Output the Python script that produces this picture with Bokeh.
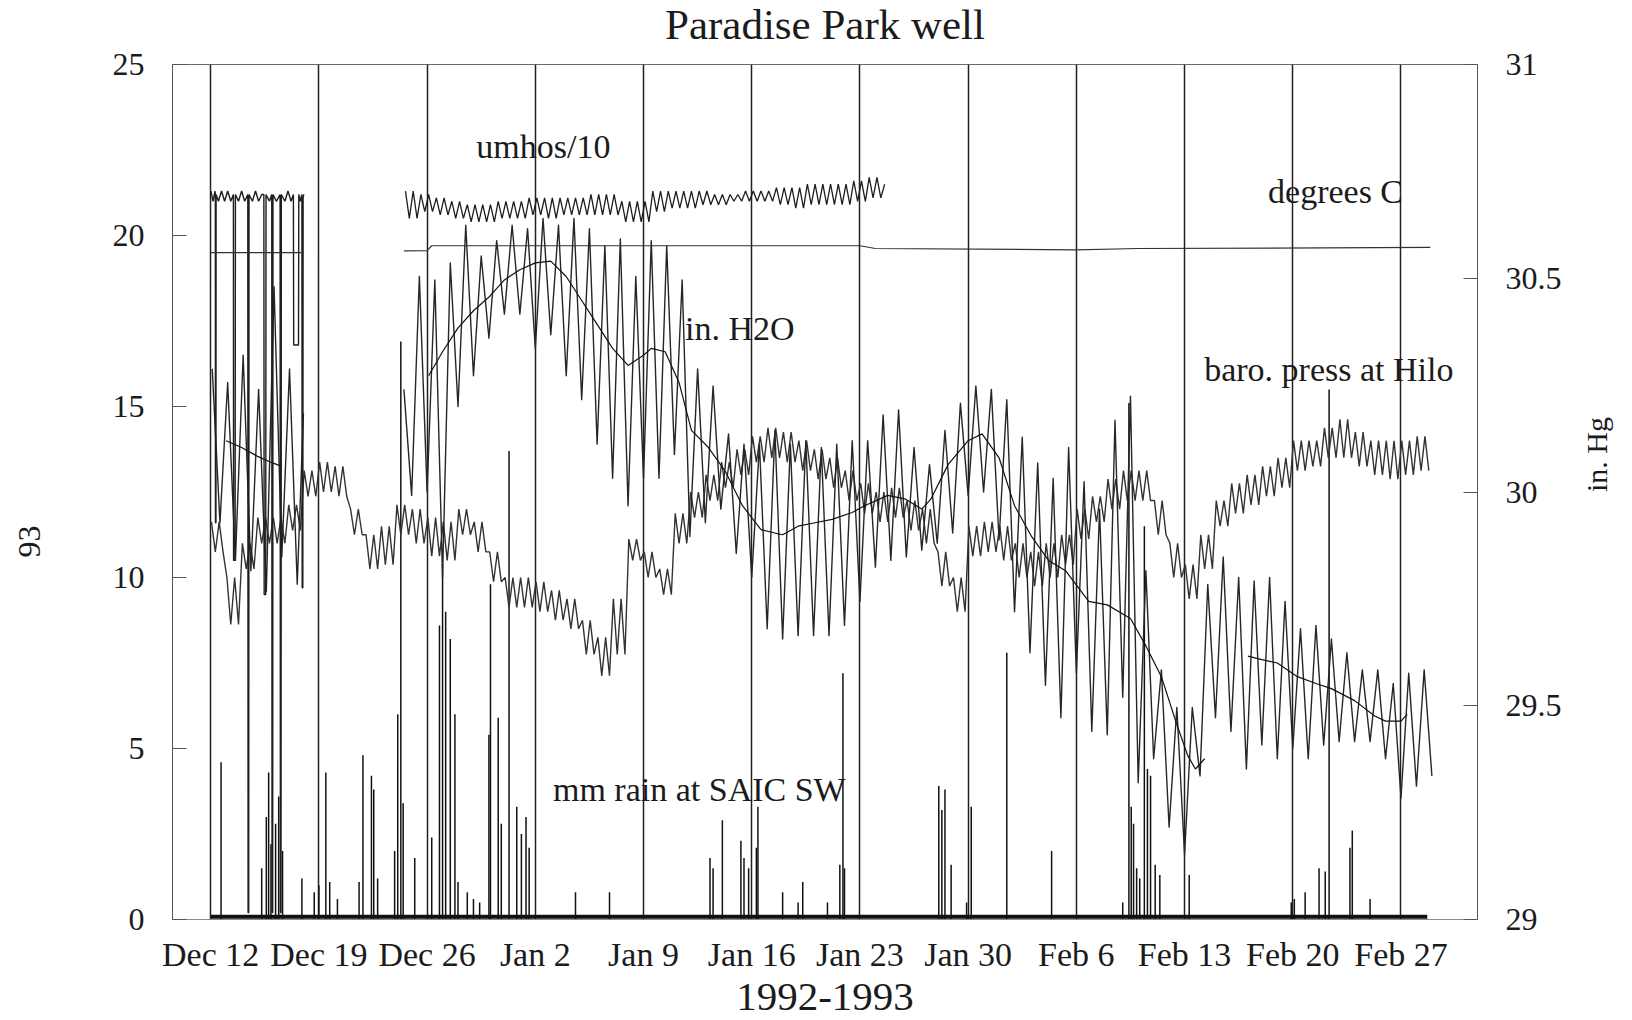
import math
import numpy as np
import pandas as pd
from bokeh.plotting import figure
from bokeh.models import Range1d, LinearAxis, FixedTicker, ColumnDataSource, Title
from bokeh.embed import file_html
from bokeh.resources import INLINE
from bokeh.core.properties import value

# ---------------------------------------------------------------------------
# Time axis: days counted from 12 Dec 1992
# ---------------------------------------------------------------------------
start_date = pd.Timestamp("1992-12-12")
week_dates = ["1992-12-12", "1992-12-19", "1992-12-26", "1993-01-02",
              "1993-01-09", "1993-01-16", "1993-01-23", "1993-01-30",
              "1993-02-06", "1993-02-13", "1993-02-20", "1993-02-27"]
week_labels = ["Dec 12", "Dec 19", "Dec 26", "Jan 2", "Jan 9", "Jan 16",
               "Jan 23", "Jan 30", "Feb 6", "Feb 13", "Feb 20", "Feb 27"]
week_pos = [float((pd.Timestamp(d) - start_date).days) for d in week_dates]

left_ticks = [0, 5, 10, 15, 20, 25]
right_ticks = [29, 29.5, 30, 30.5, 31]
right_labels = ["29", "29.5", "30", "30.5", "31"]

# ---------------------------------------------------------------------------
# Water level in well (in. H2O): daily high / low extremes
# ---------------------------------------------------------------------------
h2o_a_first_day = 0
h2o_a_hi = [16.1, 15.7, 16.5, 15.5, 18.5, 16.1]
h2o_a_lo = [11.6, 10.5, 10.2, 9.6, 10.6, 9.8]
h2o_a_last = 14.8

h2o_b_first_day = 12
h2o_b_hi = [15.5, 18.8, 18.7, 19.2, 20.3, 19.4, 19.85, 20.3, 20.2, 20.5,
            20.3, 20.5, 20.2, 19.7, 19.9, 18.8, 19.85, 19.7, 18.7, 16.1,
            15.6, 14.2, 13.9, 13.9, 14.3, 13.9, 14.0, 13.8, 13.9, 14.0,
            14.0, 14.75, 14.9, 13.8, 13.3, 14.3, 15.1, 15.6, 15.5, 15.2,
            14.1, 13.35, 12.9, 13.8, 12.8, 12.0, 14.6, 15.3, 10.2, 7.3,
            6.2, 6.2, 9.8, 10.6, 10.0, 9.9, 10.0, 9.3, 8.5, 8.6,
            8.2, 7.8, 7.3, 7.3, 6.9, 7.2, 7.3]
h2o_b_lo = [12.4, 12.5, 10.0, 15.0, 15.9, 17.0, 17.7, 17.7, 16.7, 17.1,
            15.9, 15.2, 13.9, 12.9, 12.1, 12.9, 12.9, 13.6, 11.2, 11.6,
            12.0, 10.7, 10.0, 8.5, 8.2, 8.3, 8.3, 8.3, 8.6, 9.3,
            10.3, 10.5, 10.6, 10.8, 11.0, 11.3, 12.4, 12.5, 11.1, 9.0,
            7.8, 6.85, 5.9, 7.2, 5.5, 5.4, 6.5, 4.0, 4.7, 2.7,
            1.9, 4.2, 5.9, 5.5, 4.4, 5.1, 4.7, 5.0, 4.7, 5.1,
            5.2, 5.2, 5.2, 4.7, 3.55, 3.9, 4.2]

# Smoothed water level
h2o_smooth_a_day = [1.0, 2.0, 3.0, 4.0, 4.6]
h2o_smooth_a_val = [14.0, 13.8, 13.55, 13.35, 13.25]
h2o_smooth_b_day = [14.1, 15, 16, 17, 18, 19, 20, 21, 22, 23, 24, 25, 26, 27,
                    28, 28.5, 29.4, 30.3, 31.1, 32.2, 33.3, 34.4, 35.6, 36.5,
                    37.0, 38.0, 39.1, 40.2, 41.5, 42.3, 43.8, 44.9, 46.0,
                    46.6, 47.7, 49.0, 49.9, 51.0, 52.0, 53.1, 54.2, 55.3,
                    56.8, 58.0, 59.5, 60.5, 61.5, 62.5, 63.2, 63.7, 64.3]
h2o_smooth_b_val = [15.9, 16.6, 17.3, 17.8, 18.2, 18.7, 19.0, 19.2, 19.25,
                    18.8, 18.1, 17.4, 16.7, 16.2, 16.5, 16.7, 16.6, 15.7,
                    14.3, 13.8, 13.1, 12.1, 11.4, 11.3, 11.25, 11.5, 11.6,
                    11.7, 11.9, 12.1, 12.4, 12.3, 12.0, 12.3, 13.3, 14.0,
                    14.2, 13.5, 12.1, 11.2, 10.5, 10.2, 9.3, 9.2, 8.8, 8.0,
                    7.1, 5.7, 4.8, 4.4, 4.7]
h2o_smooth_c_day = [67.1, 68.0, 69.0, 70.3, 71.5, 72.5, 74.0, 75.3, 76.0,
                    77.0, 77.4]
h2o_smooth_c_val = [7.7, 7.6, 7.5, 7.1, 6.9, 6.75, 6.4, 5.95, 5.8, 5.8, 6.0]

# ---------------------------------------------------------------------------
# Barometric pressure at Hilo (in. Hg): daily high / low
# ---------------------------------------------------------------------------
baro_hi = [29.93, 29.80, 29.88, 29.94, 29.94, 29.97, 30.05, 30.07, 30.06, 29.96,
           29.90, 29.92, 29.97, 29.96, 29.94, 29.93, 29.96, 29.93, 29.86, 29.80,
           29.80, 29.79, 29.77, 29.75, 29.70, 29.66, 29.75, 29.89, 29.86, 29.82,
           29.95, 30.00, 30.04, 30.07, 30.10, 30.13, 30.15, 30.14, 30.12, 30.10,
           30.08, 30.05, 30.02, 30.00, 30.01, 29.98, 29.96, 29.86, 29.80, 29.92,
           29.93, 29.92, 29.88, 29.86, 29.88, 29.90, 29.96, 29.99, 30.03, 30.05,
           30.05, 29.98, 29.88, 29.83, 29.90, 29.98, 30.02, 30.04, 30.06, 30.08,
           30.12, 30.12, 30.15, 30.17, 30.14, 30.12, 30.12, 30.12, 30.13]
baro_lo = [29.86, 29.69, 29.82, 29.88, 29.88, 29.91, 29.99, 30.00, 29.99, 29.90,
           29.82, 29.83, 29.90, 29.88, 29.85, 29.84, 29.90, 29.86, 29.79, 29.73,
           29.73, 29.72, 29.70, 29.68, 29.62, 29.57, 29.62, 29.84, 29.80, 29.76,
           29.88, 29.94, 29.98, 30.01, 30.04, 30.07, 30.08, 30.07, 30.05, 30.03,
           30.01, 29.98, 29.95, 29.93, 29.94, 29.91, 29.88, 29.78, 29.72, 29.85,
           29.86, 29.84, 29.80, 29.78, 29.80, 29.83, 29.89, 29.93, 29.96, 29.98,
           29.98, 29.90, 29.80, 29.75, 29.82, 29.92, 29.95, 29.97, 29.99, 30.01,
           30.05, 30.06, 30.08, 30.08, 30.06, 30.04, 30.03, 30.04, 30.05]

# ---------------------------------------------------------------------------
# Specific conductance (umhos/10)
# ---------------------------------------------------------------------------
umhos_dec = [(0.02, 21.3), (0.15, 21.0), (0.28, 21.3), (0.30, 21.2),
             (0.31, 11.6), (0.34, 11.6), (0.35, 21.2), (0.5, 21.0),
             (0.7, 21.3), (0.9, 21.0), (1.1, 21.3), (1.3, 21.0),
             (1.47, 21.2), (1.48, 10.5), (1.58, 10.5), (1.60, 21.2),
             (1.8, 21.0), (2.0, 21.3), (2.2, 21.0), (2.40, 21.2),
             (2.42, 0.2), (2.46, 0.2), (2.48, 21.2), (2.7, 21.0),
             (2.9, 21.3), (3.1, 21.0), (3.3, 21.2), (3.44, 21.2),
             (3.46, 9.5), (3.56, 9.5), (3.58, 21.2), (3.8, 21.0),
             (3.95, 21.2), (3.97, 0.2), (4.01, 0.2), (4.03, 21.2),
             (4.25, 21.0), (4.49, 21.2), (4.51, 0.2), (4.55, 0.2),
             (4.57, 21.2), (4.8, 21.0), (5.0, 21.3), (5.2, 21.0),
             (5.35, 21.2), (5.37, 16.8), (5.68, 16.8), (5.70, 21.2),
             (5.8, 21.0), (5.9, 21.2), (5.92, 9.7), (5.96, 9.7),
             (5.98, 21.1), (6.02, 21.2)]
umhos_first_day = 12
umhos_hi = [21.3, 21.2, 21.1, 21.0, 20.9, 20.9, 21.0, 21.0, 21.1, 21.1,
            21.1, 21.1, 21.2, 21.2, 21.0, 21.0, 21.3, 21.3, 21.3, 21.3,
            21.2, 21.2, 21.3, 21.3, 21.4, 21.4, 21.5, 21.5, 21.5, 21.6,
            21.7]
umhos_lo = [20.5, 20.7, 20.6, 20.5, 20.4, 20.4, 20.5, 20.5, 20.6, 20.5,
            20.6, 20.6, 20.6, 20.6, 20.4, 20.4, 20.7, 20.8, 20.8, 20.9,
            20.9, 21.0, 21.0, 21.0, 20.9, 20.8, 20.9, 20.9, 20.9, 21.0,
            21.1]
umhos_last = 21.5

# Water temperature (degrees C)
degc_a_day = [0.0, 6.0]
degc_a_val = [19.5, 19.5]
degc_b_day = [12.5, 14.0, 14.3, 42.0, 43.0, 56.0, 60.0, 78.9]
degc_b_val = [19.55, 19.56, 19.7, 19.7, 19.62, 19.58, 19.62, 19.65]

# ---------------------------------------------------------------------------
# Rainfall at SAIC SW (mm)
# ---------------------------------------------------------------------------
rain_day = [0.67, 3.3, 3.6, 3.75, 3.9, 4.2, 4.4, 4.65, 5.9, 6.7,
            7.0, 7.45, 7.7, 8.2, 9.6, 9.85, 10.4, 10.55, 10.8, 11.9,
            12.1, 12.3, 12.45, 13.2, 14.3, 14.8, 15.0, 15.2, 15.5, 15.8,
            16.0, 16.6, 17.0, 17.4, 18.0, 18.1, 18.6, 18.8, 19.3, 19.8,
            20.1, 20.4, 20.6, 23.6, 25.8, 32.3, 32.5, 33.1, 34.3, 34.5,
            34.8, 35.3, 35.4, 37.0, 38.0, 38.3, 39.9, 40.7, 40.9, 41.0,
            47.1, 47.3, 47.5, 47.9, 48.9, 49.2, 51.5, 54.4, 59.0, 59.4,
            59.55, 59.7, 59.9, 60.1, 60.4, 60.6, 60.8, 61.1, 61.4, 63.3,
            69.9, 70.1, 70.8, 71.7, 72.1, 72.35, 73.7, 73.85, 75.0]
rain_mm = [4.6, 1.5, 3.0, 4.3, 2.2, 2.8, 3.6, 2.0, 1.2, 0.8,
           1.0, 4.3, 1.1, 0.6, 1.1, 4.8, 4.2, 3.8, 1.2, 2.0,
           6.0, 16.9, 3.4, 1.8, 2.4, 8.6, 10.4, 9.0, 8.2, 6.0,
           1.1, 0.8, 0.6, 0.5, 5.4, 9.8, 5.9, 2.8, 13.7, 3.3,
           2.5, 3.0, 2.1, 0.8, 0.8, 1.8, 1.5, 2.9, 2.3, 1.8,
           1.5, 2.1, 3.3, 0.8, 0.5, 1.1, 0.5, 1.6, 7.2, 1.5,
           3.9, 3.2, 3.8, 1.6, 0.5, 3.3, 7.8, 2.0, 0.5, 15.1,
           3.3, 2.8, 1.5, 1.2, 11.5, 4.4, 4.2, 1.6, 1.3, 1.3,
           0.5, 0.6, 0.8, 1.5, 1.4, 15.5, 2.1, 2.6, 0.6]
rain_record_days = [0.0, 78.7]
rain_record_floor = [0.08, 0.08]

# Series captions
note_text = ["umhos/10", "degrees C", "in. H2O", "baro. press at Hilo",
             "mm rain at SAIC SW"]
note_day = [17.18, 68.4, 30.68, 64.27, 22.14]
note_val = [22.6, 21.3, 17.28, 16.07, 3.81]

title_text = "Paradise Park well"
left_label_text = "93"


def alternate(first, step, his, los, per_day):
    """Expand daily high/low readings into an alternating trace."""
    assert len(his) == len(los)
    vals = []
    for h, l in zip(his, los):
        vals.extend([h, l] * per_day)
    t = first + step * np.arange(len(vals))
    return list(t), vals


SERIF = "Liberation Serif"
INK = "#1b1b1b"
X0, X1 = -2.47, 81.95
LIFT = 16   # extra room above the frame; canvas is raised by the same amount
SHIFT = 80  # extra room left of the frame; canvas is moved left by the same amount

p = figure(width=1632 + SHIFT, height=1020 + LIFT,
           x_range=Range1d(X0, X1), y_range=Range1d(0, 25),
           output_backend="svg", toolbar_location=None,
           min_border_left=172 + SHIFT, min_border_right=154,
           min_border_top=64 + LIFT, min_border_bottom=101)
p.styles = {"margin-top": f"-{LIFT}px", "margin-left": f"-{SHIFT}px"}
p.extra_y_ranges = {"hg": Range1d(29, 31)}
p.background_fill_color = "white"
p.border_fill_color = "white"
p.outline_line_color = "#6a6a6a"
p.outline_line_width = 1

# Title
p.title.text = title_text
p.title.align = "center"
p.title.vertical_align = "top"
p.title.text_font = SERIF
p.title.text_font_size = "43px"
p.title.text_font_style = "normal"
p.title.text_color = INK
p.title.standoff = 29

# Bottom (time) axis
xa = p.xaxis[0]
xa.ticker = FixedTicker(ticks=week_pos)
xa.major_label_overrides = {pos: lab for pos, lab in zip(week_pos, week_labels)}
xa.major_label_text_font = SERIF
xa.major_label_text_font_size = "34px"
xa.major_label_text_color = INK
xa.major_label_standoff = 10
xa.major_tick_line_color = None
xa.minor_tick_line_color = None
xa.axis_line_color = "#8a8a8a"
xa.axis_label = "1992-1993"
xa.axis_label_text_font = SERIF
xa.axis_label_text_font_size = "41px"
xa.axis_label_text_font_style = "normal"
xa.axis_label_text_color = INK
xa.axis_label_standoff = 8

# Left axis
ya = p.yaxis[0]
ya.ticker = FixedTicker(ticks=left_ticks)
ya.major_label_text_font = SERIF
ya.major_label_text_font_size = "32px"
ya.major_label_text_color = INK
ya.major_tick_in = 14
ya.major_tick_out = 0
ya.major_tick_line_color = "#555555"
ya.minor_tick_line_color = None
ya.major_label_standoff = 28
ya.axis_line_color = "#555555"

# Left-hand caption beside the axis
p.add_layout(Title(text=left_label_text, align="left", offset=362,
                   vertical_align="top", standoff=135,
                   text_font=SERIF, text_font_size="32px",
                   text_font_style="normal", text_color=INK), "left")

# Right axis (barometric pressure)
ra = LinearAxis(y_range_name="hg", ticker=FixedTicker(ticks=right_ticks))
ra.major_label_overrides = {t: s for t, s in zip(right_ticks, right_labels)}
ra.major_label_text_font = SERIF
ra.major_label_text_font_size = "32px"
ra.major_label_text_color = INK
ra.major_tick_in = 14
ra.major_tick_out = 0
ra.major_tick_line_color = "#555555"
ra.minor_tick_line_color = None
ra.major_label_standoff = 28
ra.axis_line_color = "#555555"
ra.axis_label = "in. Hg"
ra.axis_label_text_font = SERIF
ra.axis_label_text_font_size = "30px"
ra.axis_label_text_font_style = "normal"
ra.axis_label_text_color = INK
ra.axis_label_standoff = 32
ra.axis_label_orientation = math.pi / 2
p.add_layout(ra, "right")

# Weekly vertical rules
p.xgrid.grid_line_color = "#202020"
p.xgrid.grid_line_width = 1.5
p.xgrid.grid_line_alpha = 1.0
p.ygrid.grid_line_color = None

# Rainfall
p.line(rain_record_days, rain_record_floor, line_color="#111111", line_width=4)
p.segment(x0=rain_day, y0=[0] * len(rain_day), x1=rain_day, y1=rain_mm,
          line_color="#111111", line_width=1.5)

# Barometric pressure (right scale), two cycles per day
bx, by = alternate(0.05, 0.25, baro_hi, baro_lo, 2)
p.line(bx, by, y_range_name="hg", line_color="#333333", line_width=1.4)

# Water level
ax_, ay_ = alternate(h2o_a_first_day + 0.1, 0.5, h2o_a_hi, h2o_a_lo, 1)
ax_.append(ax_[-1] + 0.4)
ay_.append(h2o_a_last)
p.line(ax_, ay_, line_color="#262626", line_width=1.4, line_join="round")
bx2, by2 = alternate(h2o_b_first_day + 0.5, 0.5, h2o_b_hi, h2o_b_lo, 1)
p.line(bx2, by2, line_color="#262626", line_width=1.4, line_join="round")

# Smoothed water level
p.line(h2o_smooth_a_day, h2o_smooth_a_val, line_color="#111111", line_width=1.2)
p.line(h2o_smooth_b_day, h2o_smooth_b_val, line_color="#111111", line_width=1.2)
p.line(h2o_smooth_c_day, h2o_smooth_c_val, line_color="#111111", line_width=1.2)

# Conductance
p.line([d for d, _ in umhos_dec], [v for _, v in umhos_dec],
       line_color="#1e1e1e", line_width=1.4)
ux, uy = alternate(umhos_first_day + 0.6, 0.25, umhos_hi, umhos_lo, 2)
ux.append(ux[-1] + 0.25)
uy.append(umhos_last)
p.line(ux, uy, line_color="#1e1e1e", line_width=1.3)

# Temperature
p.line(degc_a_day, degc_a_val, line_color="#333333", line_width=1.2)
p.line(degc_b_day, degc_b_val, line_color="#333333", line_width=1.2)

# Captions
notes = ColumnDataSource(dict(x=note_day, y=note_val, t=note_text))
p.text(x="x", y="y", text="t", source=notes, text_font=value(SERIF),
       text_font_size="34px", text_color=INK, text_align="left",
       text_baseline="middle")

open("out.html", "w").write(file_html(p, INLINE))
